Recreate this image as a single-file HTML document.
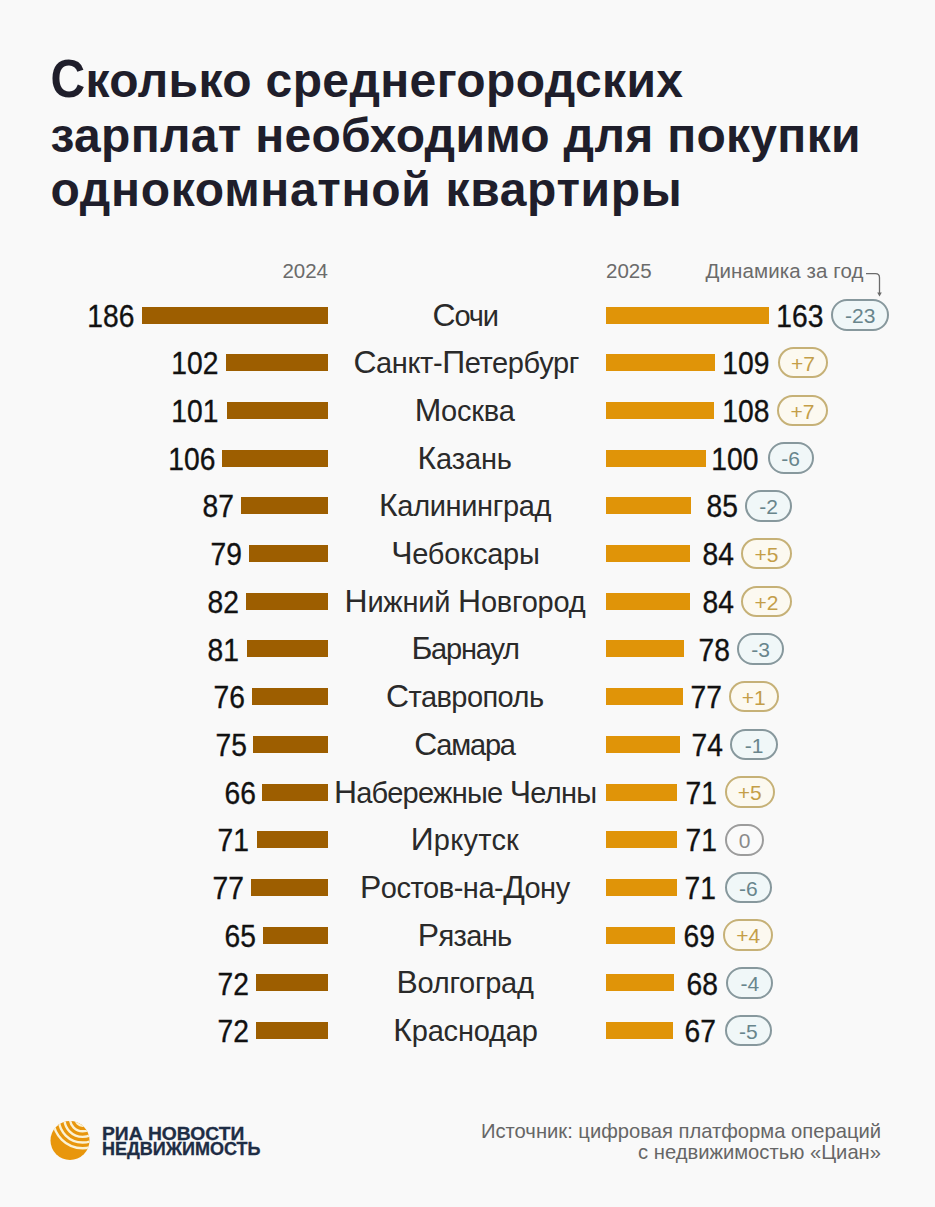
<!DOCTYPE html>
<html lang="ru">
<head>
<meta charset="utf-8">
<title>Сколько среднегородских зарплат необходимо для покупки однокомнатной квартиры</title>
<style>
html,body{margin:0;padding:0}
body{width:935px;height:1207px;background:#f9f9f9;position:relative;overflow:hidden;font-family:"Liberation Sans",Arial,sans-serif}
.t{position:absolute;left:50.5px;font-weight:bold;font-size:48px;line-height:48px;color:#1f1e2b;white-space:nowrap}
.cap{display:inline-block;transform:scaleY(1.13);transform-origin:0 88%}
.hdr{position:absolute;font-size:20.5px;line-height:20px;color:#6b6b6b;white-space:nowrap}
.row{position:absolute;left:0;width:935px;height:0}
.num{position:absolute;top:-14.35px;font-size:31px;line-height:31px;color:#111;white-space:nowrap;transform:scaleX(0.91);transform-origin:50% 50%;-webkit-text-stroke:0.35px #111}
i{position:absolute;display:block;height:17px;top:-8.5px}
.b1{background:#9d5e00}
.b2{background:#e09408;left:606px}
.C{font-size:1.1em}
.city{position:absolute;left:0;width:932px;top:-14.5px;text-align:center;font-size:29px;line-height:29px;color:#2a2a2a;white-space:nowrap}
.pill{position:absolute;top:-15.75px;box-sizing:border-box;height:31.5px;border-radius:16px;border:2px solid;text-align:center;font-size:21px;line-height:29.3px;white-space:nowrap}
.neg{border-color:#87989d;background:#f0f7f8;color:#68858c}
.pos{border-color:#c6b177;background:#fcf9f0;color:#c49e48}
.zero{border-color:#9c9c9c;background:#fafafa;color:#8a8a8a}
.logo{position:absolute;left:50px;top:1120px}
.ria{position:absolute;left:102px;transform-origin:0 0;font-weight:bold;font-size:18px;line-height:18px;color:#1e2d45;white-space:nowrap;-webkit-text-stroke:0.3px #1e2d45}
.src{position:absolute;right:54px;top:1121px;text-align:right;font-size:20.2px;line-height:21px;color:#666666;white-space:nowrap}
</style>
</head>
<body>
<div class="t" style="top:56.9px;letter-spacing:0.36px"><span class="cap">С</span>колько среднегородских</div>
<div class="t" style="top:112px;letter-spacing:0.3px">зарплат необходимо для покупки</div>
<div class="t" style="top:166.4px;letter-spacing:0.68px">однокомнатной квартиры</div>

<div class="hdr" style="right:607px;top:261px">2024</div>
<div class="hdr" style="left:606px;top:261px">2025</div>
<div class="hdr" style="left:705.5px;top:261px;letter-spacing:0.1px">Динамика за год</div>
<svg style="position:absolute;left:860px;top:266px" width="30" height="34" viewBox="0 0 30 34">
<path d="M6 7.7 H15.5 Q19.5 7.7 19.5 11.7 V28" fill="none" stroke="#6b6b6b" stroke-width="1.3"/>
<path d="M17.2 26.6 L19.5 30.6 L21.8 26.6 Z" fill="#6b6b6b"/>
</svg>

<div class="row" style="top:315.00px">
<i class="b1" style="left:142px;width:186px"></i><span class="num" style="left:85.00px">186</span>
<div class="city" style="letter-spacing:-1.07px;margin-left:-0.80px"><span class="C">С</span>очи</div>
<i class="b2" style="width:163px"></i><span class="num" style="left:773.50px">163</span><span class="pill neg" style="left:831.1px;width:58.2px">-23</span>
</div>
<div class="row" style="top:362.71px">
<i class="b1" style="left:226px;width:102px"></i><span class="num" style="left:169.40px">102</span>
<div class="city" style="letter-spacing:-0.39px;margin-left:0.14px"><span class="C">С</span>анкт-<span class="C">П</span>етербург</div>
<i class="b2" style="width:109px"></i><span class="num" style="left:720.30px">109</span><span class="pill pos" style="left:777.6px;width:50.6px">+7</span>
</div>
<div class="row" style="top:410.42px">
<i class="b1" style="left:227px;width:101px"></i><span class="num" style="left:168.70px">101</span>
<div class="city" style="letter-spacing:-0.20px;margin-left:-1.40px"><span class="C">М</span>осква</div>
<i class="b2" style="width:108px"></i><span class="num" style="left:720.40px">108</span><span class="pill pos" style="left:777.2px;width:50.6px">+7</span>
</div>
<div class="row" style="top:458.13px">
<i class="b1" style="left:222px;width:106px"></i><span class="num" style="left:166.00px">106</span>
<div class="city" style="letter-spacing:-0.12px;margin-left:-1.28px"><span class="C">К</span>азань</div>
<i class="b2" style="width:100px"></i><span class="num" style="left:709.30px">100</span><span class="pill neg" style="left:767.5px;width:46.0px">-6</span>
</div>
<div class="row" style="top:505.84px">
<i class="b1" style="left:241px;width:87px"></i><span class="num" style="left:201.00px">87</span>
<div class="city" style="letter-spacing:-0.34px;margin-left:-0.86px"><span class="C">К</span>алининград</div>
<i class="b2" style="width:85px"></i><span class="num" style="left:704.80px">85</span><span class="pill neg" style="left:744.9px;width:47.2px">-2</span>
</div>
<div class="row" style="top:553.55px">
<i class="b1" style="left:249px;width:79px"></i><span class="num" style="left:209.30px">79</span>
<div class="city" style="letter-spacing:-0.23px;margin-left:-0.55px"><span class="C">Ч</span>ебоксары</div>
<i class="b2" style="width:84px"></i><span class="num" style="left:700.60px">84</span><span class="pill pos" style="left:740.9px;width:51.2px">+5</span>
</div>
<div class="row" style="top:601.26px">
<i class="b1" style="left:246px;width:82px"></i><span class="num" style="left:206.30px">82</span>
<div class="city" style="letter-spacing:-0.23px;margin-left:-0.99px"><span class="C">Н</span>ижний <span class="C">Н</span>овгород</div>
<i class="b2" style="width:84px"></i><span class="num" style="left:700.60px">84</span><span class="pill pos" style="left:740.9px;width:51.2px">+2</span>
</div>
<div class="row" style="top:648.97px">
<i class="b1" style="left:247px;width:81px"></i><span class="num" style="left:205.60px">81</span>
<div class="city" style="letter-spacing:-1.20px;margin-left:-0.93px"><span class="C">Б</span>арнаул</div>
<i class="b2" style="width:78px"></i><span class="num" style="left:696.90px">78</span><span class="pill neg" style="left:737.0px;width:47.0px">-3</span>
</div>
<div class="row" style="top:696.68px">
<i class="b1" style="left:252px;width:76px"></i><span class="num" style="left:212.40px">76</span>
<div class="city" style="letter-spacing:-0.56px;margin-left:-1.24px"><span class="C">С</span>таврополь</div>
<i class="b2" style="width:77px"></i><span class="num" style="left:689.10px">77</span><span class="pill pos" style="left:728.5px;width:50.5px">+1</span>
</div>
<div class="row" style="top:744.39px">
<i class="b1" style="left:253px;width:75px"></i><span class="num" style="left:213.80px">75</span>
<div class="city" style="letter-spacing:-1.16px;margin-left:-1.44px"><span class="C">С</span>амара</div>
<i class="b2" style="width:74px"></i><span class="num" style="left:689.70px">74</span><span class="pill neg" style="left:730.1px;width:47.8px">-1</span>
</div>
<div class="row" style="top:792.10px">
<i class="b1" style="left:262px;width:66px"></i><span class="num" style="left:222.60px">66</span>
<div class="city" style="letter-spacing:-0.73px;margin-left:-0.87px"><span class="C">Н</span>абережные <span class="C">Ч</span>елны</div>
<i class="b2" style="width:71px"></i><span class="num" style="left:683.80px">71</span><span class="pill pos" style="left:724.7px;width:50.3px">+5</span>
</div>
<div class="row" style="top:839.81px">
<i class="b1" style="left:257px;width:71px"></i><span class="num" style="left:215.60px">71</span>
<div class="city" style="letter-spacing:0.23px;margin-left:-1.13px"><span class="C">И</span>ркутск</div>
<i class="b2" style="width:71px"></i><span class="num" style="left:683.80px">71</span><span class="pill zero" style="left:724.7px;width:39.7px">0</span>
</div>
<div class="row" style="top:887.52px">
<i class="b1" style="left:251px;width:77px"></i><span class="num" style="left:211.30px">77</span>
<div class="city" style="letter-spacing:-0.46px;margin-left:-1.17px"><span class="C">Р</span>остов-на-<span class="C">Д</span>ону</div>
<i class="b2" style="width:71px"></i><span class="num" style="left:683.20px">71</span><span class="pill neg" style="left:725.1px;width:46.5px">-6</span>
</div>
<div class="row" style="top:935.23px">
<i class="b1" style="left:263px;width:65px"></i><span class="num" style="left:223.30px">65</span>
<div class="city" style="letter-spacing:-0.64px;margin-left:-1.36px"><span class="C">Р</span>язань</div>
<i class="b2" style="width:69px"></i><span class="num" style="left:682.10px">69</span><span class="pill pos" style="left:722.9px;width:50.5px">+4</span>
</div>
<div class="row" style="top:982.94px">
<i class="b1" style="left:256px;width:72px"></i><span class="num" style="left:215.80px">72</span>
<div class="city" style="letter-spacing:-0.28px;margin-left:-0.90px"><span class="C">В</span>олгоград</div>
<i class="b2" style="width:68px"></i><span class="num" style="left:685.40px">68</span><span class="pill neg" style="left:726.3px;width:47.1px">-4</span>
</div>
<div class="row" style="top:1030.65px">
<i class="b1" style="left:256px;width:72px"></i><span class="num" style="left:215.80px">72</span>
<div class="city" style="letter-spacing:-0.17px;margin-left:-0.47px"><span class="C">К</span>раснодар</div>
<i class="b2" style="width:67px"></i><span class="num" style="left:683.40px">67</span><span class="pill neg" style="left:725.1px;width:46.5px">-5</span>
</div>

<svg class="logo" width="42" height="42" viewBox="0 0 42 42">
<defs><clipPath id="cc"><circle cx="20" cy="20.5" r="19.5"/></clipPath></defs>
<circle cx="20" cy="20.5" r="19.5" fill="#e8960c"/>
<g clip-path="url(#cc)" fill="none" stroke="#fbf2d4" stroke-width="2.4">
<circle cx="32.6" cy="-1.3" r="7"/>
<circle cx="32.6" cy="-1.3" r="12.6"/>
<circle cx="32.6" cy="-1.3" r="18.2"/>
<circle cx="32.6" cy="-1.3" r="23.8"/>
<circle cx="32.6" cy="-1.3" r="29.5"/>
</g>
</svg>
<div class="ria" style="top:1125.1px;transform:scaleX(1.07)">РИА НОВОСТИ</div>
<div class="ria" style="top:1139.7px;transform:scaleX(1.0)">НЕДВИЖИМОСТЬ</div>
<div class="src">Источник: цифровая платформа операций<br>с недвижимостью «Циан»</div>
</body>
</html>
